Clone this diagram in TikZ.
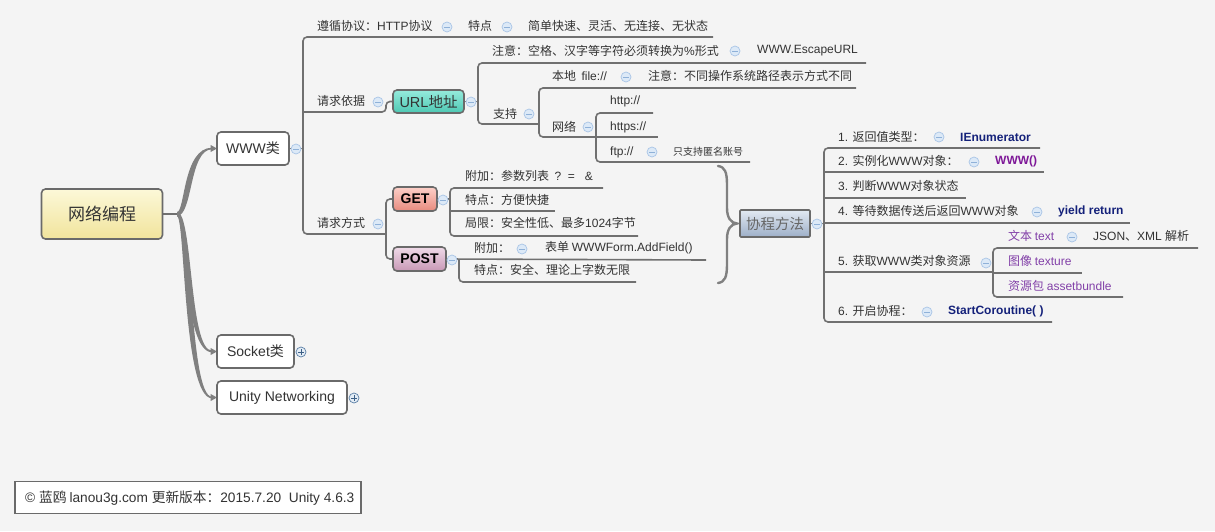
\documentclass[tikz,border=0pt]{standalone}
\usepackage{fontspec}
\setmainfont{Liberation Sans}
\newfontfamily\cjkf{Noto Sans CJK SC}
\newfontfamily\latf{Liberation Sans}
\XeTeXinterchartokenstate=1
\newXeTeXintercharclass\cjkcls
\count255="3000
\loop\XeTeXcharclass\count255=\cjkcls\relax
\ifnum\count255<"9FFF\advance\count255 by 1\repeat
\count255="FF00
\loop\XeTeXcharclass\count255=\cjkcls\relax
\ifnum\count255<"FFEF\advance\count255 by 1\repeat
\XeTeXinterchartoks 0 \cjkcls = {\cjkf}
\XeTeXinterchartoks 4095 \cjkcls = {\cjkf}
\XeTeXinterchartoks \cjkcls 0 = {\latf}
\XeTeXinterchartoks 4095 0 = {\latf}
\definecolor{bg}{HTML}{F4F4F4}
\definecolor{txtc}{HTML}{333333}
\definecolor{lnc}{HTML}{707070}
\definecolor{brc}{HTML}{808080}
\definecolor{bdc}{HTML}{6A6A6A}
\definecolor{cfill}{HTML}{DCE9F7}
\definecolor{cdraw}{HTML}{A9C5E6}
\definecolor{cline}{HTML}{8FB1D8}
\definecolor{pdraw}{HTML}{5B7FA6}
\definecolor{pfill}{HTML}{E3ECF5}
\definecolor{pline}{HTML}{3C5F86}
\definecolor{navy}{HTML}{14217A}
\definecolor{purp}{HTML}{7E1898}
\definecolor{lpurp}{HTML}{8240A8}
\definecolor{rtop}{HTML}{FCF8D8}
\definecolor{rbot}{HTML}{F1E49C}
\definecolor{utop}{HTML}{96EBDC}
\definecolor{ubot}{HTML}{4DC8B3}
\definecolor{gtop}{HTML}{FDD0C8}
\definecolor{gbot}{HTML}{E78A7E}
\definecolor{ptop}{HTML}{EFDAE8}
\definecolor{pbot}{HTML}{C898B6}
\definecolor{xtop}{HTML}{E2E9F2}
\definecolor{xbot}{HTML}{9DAFC8}
\usetikzlibrary{backgrounds}
\pgfdeclarelayer{lines}
\pgfsetlayers{background,lines,main}
\begin{document}
\begin{tikzpicture}[x=1pt,y=-1pt,
  t/.style={anchor=west, inner sep=0pt, text=txtc, font=\fontsize{12}{14}\selectfont},
  ln/.style={draw=lnc, line width=1.6pt, rounded corners=4pt},
  box/.style={draw=bdc, line width=1.6pt, rounded corners=4pt, inner sep=0pt, text=txtc},
  wbox/.style={box, fill=white, minimum height=33pt, font=\fontsize{14}{16}\selectfont},
  mn/.style={circle, draw=cdraw, fill=cfill, line width=0.7pt, minimum size=10pt, inner sep=0pt,
    path picture={\draw[cline, line width=1pt] ([xshift=-2.6pt]path picture bounding box.center) -- ([xshift=2.6pt]path picture bounding box.center);}},
  pl/.style={circle, draw=pdraw, fill=pfill, line width=0.7pt, minimum size=10pt, inner sep=0pt,
    path picture={\draw[pline, line width=0.9pt] ([xshift=-2.6pt]path picture bounding box.center) -- ([xshift=2.6pt]path picture bounding box.center) ([yshift=-2.6pt]path picture bounding box.center) -- ([yshift=2.6pt]path picture bounding box.center);}}
]
\begin{pgfonlayer}{background}
\fill[bg] (0,0) rectangle (1215,531);
\end{pgfonlayer}
\useasboundingbox (0,0) rectangle (1215,531);

% ---------- boxes ----------
\node[box, minimum width=121pt, minimum height=50pt, top color=rtop, bottom color=rbot,
  font=\fontsize{17}{19}\selectfont] (root) at (102,214) {网络编程};
\node[wbox, minimum width=72pt] (www) at (253,148.5) {WWW类};
\node[wbox, minimum width=77pt] (sock) at (255.5,351.5) {Socket类};
\node[wbox, minimum width=130pt] (unet) at (282,397.5) {Unity Networking};
\node[box, minimum width=71pt, minimum height=23pt, top color=utop, bottom color=ubot,
  font=\fontsize{14.5}{16}\selectfont] (url) at (428.5,101.5) {URL地址};
\node[box, minimum width=44pt, minimum height=24pt, top color=gtop, bottom color=gbot,
  font=\fontsize{14}{16}\selectfont\bfseries, text=black] (get) at (415,199) {GET};
\node[box, minimum width=53pt, minimum height=24pt, top color=ptop, bottom color=pbot,
  font=\fontsize{14}{16}\selectfont\bfseries, text=black] (post) at (419.5,259) {POST};
\node[box, rounded corners=1pt, minimum width=70pt, minimum height=27pt, top color=xtop, bottom color=xbot,
  font=\fontsize{14.5}{16}\selectfont, text=txtc!75!white] (xc) at (775,223.5) {协程方法};
\node[draw=bdc, line width=1.6pt, fill=white, minimum width=346pt, minimum height=32pt, inner sep=0pt] (foot) at (188,497.5) {};
\node[t, font=\fontsize{13.7}{15}\selectfont] (foottxt) at (25,498) {© 蓝鸥 lanou3g.com 更新版本：2015.7.20\ \ Unity 4.6.3};

% ---------- texts ----------
\node[t] (a1) at (317,26) {遵循协议：HTTP协议};
\node[t] (a2) at (468,26) {特点};
\node[t] (a3) at (528,26) {简单快速、灵活、无连接、无状态};
\node[t] (b1) at (317,101) {请求依据};
\node[t] (b2) at (492,51) {注意：空格、汉字等字符必须转换为\%形式};
\node[t] (b3) at (757,51) {WWW.EscapeURL};
\node[t] (b4) at (493,114) {支持};
\node[t] (b5) at (552,76) {本地\ \ file://};
\node[t] (b6) at (648,76) {注意：不同操作系统路径表示方式不同};
\node[t] (b7) at (552,127) {网络};
\node[t] (b8) at (610,101) {http://};
\node[t] (b9) at (610,127) {https://};
\node[t] (b10) at (610,152) {ftp://};
\node[t, font=\fontsize{10}{12}\selectfont] (b11) at (673,152) {只支持匿名账号};
\node[t] (d1) at (317,223) {请求方式};
\node[t] (d2) at (465,176) {附加：参数列表\ \ ?\ \ =\ \ \ \&};
\node[t] (d3) at (465,200) {特点：方便快捷};
\node[t] (d4) at (465,223) {局限：安全性低、最多1024字节};
\node[t] (d5) at (474,248) {附加：};
\node[t] (d6) at (545,248) {表单 WWWForm.AddField()};
\node[t] (d7) at (474,270) {特点：安全、理论上字数无限};
\node[t] (e1) at (838,137) {1. 返回值类型：};
\node[t, font=\fontsize{12}{14}\selectfont\bfseries, text=navy] (e1b) at (960,137) {IEnumerator};
\node[t] (e2) at (838,161) {2. 实例化WWW对象：};
\node[t, font=\fontsize{12}{14}\selectfont\bfseries, text=purp] (e2b) at (995,161) {WWW()};
\node[t] (e3) at (838,186) {3. 判断WWW对象状态};
\node[t] (e4) at (838,211) {4. 等待数据传送后返回WWW对象};
\node[t, font=\fontsize{12}{14}\selectfont\bfseries, text=navy] (e4b) at (1058,211) {yield return};
\node[t, text=lpurp] (f1) at (1008,236) {文本 text};
\node[t] (f1b) at (1093,236) {JSON、XML 解析};
\node[t] (e5) at (838,261) {5. 获取WWW类对象资源};
\node[t, text=lpurp] (f2) at (1008,261) {图像 texture};
\node[t, text=lpurp] (f3) at (1008,286) {资源包 assetbundle};
\node[t] (e6) at (838,311) {6. 开启协程：};
\node[t, font=\fontsize{12}{14}\selectfont\bfseries, text=navy] (e6b) at (948,311) {StartCoroutine( )};

% ---------- connectors ----------
\begin{pgfonlayer}{lines}
\coordinate (rj) at (178,214);
\draw[ln] (root.east) -- (rj);
\newcommand\mybranch[2]{%
  \fill[brc] (177,214+2*#2) .. controls (185,214+2*#2) and (183,#1+0.8*#2) .. (212,#1+0.8*#2)
    -- (212,#1-0.8*#2) .. controls (189,#1-0.8*#2) and (193,214-2*#2) .. (177,214-2*#2) -- cycle;
  \fill[brc] (210.5,#1-3.6) -- (217,#1) -- (210.5,#1+3.6) -- cycle;}
\mybranch{148.5}{-1}
\mybranch{351.5}{1}
\mybranch{397.5}{1}
% WWW
\draw[ln] (www.east) -- (303,148.5);
\draw[ln] (713,37) -- (303,37) -- (303,234) -- (386,234);
\draw[ln] (303,112) -- (386,112) -- (386,101.5) -- (url.west);
% URL
\draw[ln] (url.east) -- (478,101.5);
\draw[ln] (866,63) -- (478,63) -- (478,124) -- (539,124);
\draw[ln] (856,88) -- (539,88) -- (539,137) -- (596,137);
\draw[ln] (653,113) -- (596,113) -- (596,162) -- (750,162);
\draw[ln] (596,137) -- (658,137);
% GET / POST
\draw[ln] (get.west) -- (386,199) -- (386,259) -- (post.west);
\draw[ln] (get.east) -- (450,199);
\draw[ln] (603,188) -- (450,188) -- (450,236) -- (638,236);
\draw[ln] (450,211) -- (555,211);
\draw[ln] (post.east) -- (706,260);
\draw[ln] (459,260) -- (459,282) -- (636,282);
% brace
\draw[brc, line width=2.4pt, line cap=round] (718,166) .. controls (725,167) and (727,172) .. (727,185) -- (727,208)
  .. controls (727,218) and (731,223) .. (737,223.5) .. controls (731,224) and (727,229) .. (727,239)
  -- (727,264) .. controls (727,277) and (725,282) .. (718,283);
% coroutine
\draw[ln] (xc.east) -- (824,223.5);
\draw[ln] (1040,148) -- (824,148) -- (824,322) -- (1052,322);
\draw[ln] (824,172) -- (1044,172);
\draw[ln] (824,198) -- (966,198);
\draw[ln] (824,223) -- (1130,223);
\draw[ln] (824,272) -- (993,272);
\draw[ln] (1198,248) -- (993,248) -- (993,297) -- (1123,297);
\draw[ln] (993,273) -- (1082,273);
\end{pgfonlayer}

% ---------- collapse markers ----------
\node[mn] (cw) at (296,149) {};
\node[pl] (cs) at (301,352) {};
\node[pl] (cu) at (354,398) {};
\node[mn] (ca1) at (447,27) {};
\node[mn] (ca2) at (507,27) {};
\node[mn] (cb1) at (378,102) {};
\node[mn] (curl) at (471,102) {};
\node[mn] (cb2) at (735,51) {};
\node[mn] (cb4) at (529,114) {};
\node[mn] (cb5) at (626,77) {};
\node[mn] (cb7) at (588,127) {};
\node[mn] (cb10) at (652,152) {};
\node[mn] (cd1) at (378,224) {};
\node[mn] (cget) at (443,200) {};
\node[mn] (cpost) at (452,260) {};
\node[mn] (cd5) at (522,249) {};
\node[mn] (cxc) at (817,224) {};
\node[mn] (ce1) at (939,137) {};
\node[mn] (ce2) at (974,162) {};
\node[mn] (ce4) at (1037,212) {};
\node[mn] (cf1) at (1072,237) {};
\node[mn] (ce5) at (986,263) {};
\node[mn] (ce6) at (927,312) {};
\end{tikzpicture}
\end{document}
